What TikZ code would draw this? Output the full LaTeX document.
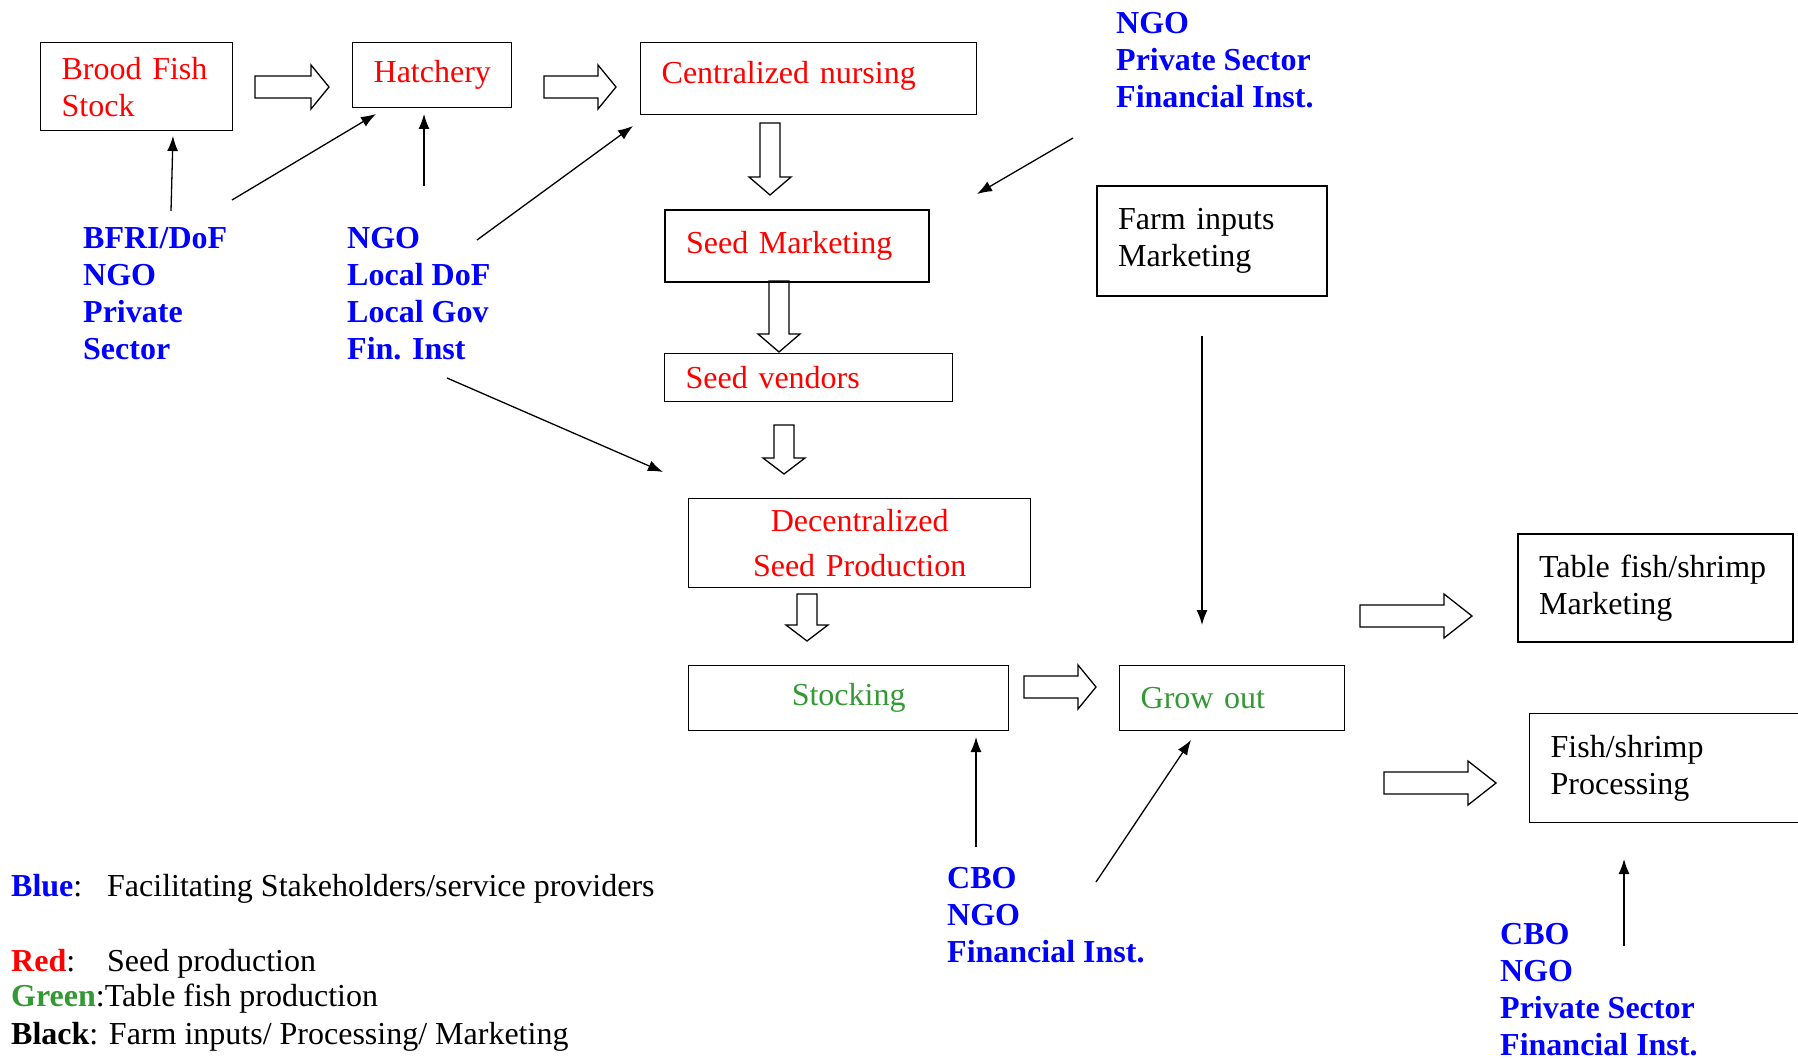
\documentclass[tikz,border=0pt]{standalone}
\usepackage{fontspec}
\setmainfont{Liberation Serif}
\usetikzlibrary{arrows.meta}

\definecolor{seedred}{RGB}{255,0,0}
\definecolor{facblue}{RGB}{0,0,255}
\definecolor{tablegreen}{RGB}{51,153,51}

\newcommand{\chartfont}{\fontsize{32}{37}\selectfont}

% hollow block arrows: start, end of tip, centre line, head length
\newcommand{\rightblock}[4]{%
  \draw[line width=1.3pt] ({#1},{#3-11}) -- ({#2-#4},{#3-11}) -- ({#2-#4},{#3-22})
    -- ({#2},{#3}) -- ({#2-#4},{#3+22}) -- ({#2-#4},{#3+11}) -- ({#1},{#3+11}) -- cycle;}
\newcommand{\downblock}[4]{%
  \draw[line width=1.3pt] ({#3-10},{#1}) -- ({#3-10},{#2-#4}) -- ({#3-21},{#2-#4})
    -- ({#3},{#2}) -- ({#3+21},{#2-#4}) -- ({#3+10},{#2-#4}) -- ({#3+10},{#1}) -- cycle;}

\tikzset{
  box/.style={draw, line width=1.3pt, anchor=north west, inner xsep=21pt, inner ysep=0pt, align=left},
  thickbox/.style={box, line width=2.2pt},
  helper/.style={text=facblue, font=\chartfont\bfseries, align=left, anchor=west, inner sep=0pt},
  legend/.style={anchor=base west, inner sep=0pt},
  link/.style={line width=1.3pt, -{Latex[length=15pt,width=11pt]}},
}

\begin{document}
\begin{tikzpicture}[x=1pt,y=-1pt,font=\chartfont]
\useasboundingbox (0,0) rectangle (1798,1059);

% seed production chain
\node[box, text width=150pt, minimum height=88pt, text=seedred] (brood) at (40,42) {Brood Fish\\Stock};
\node[box, text width=117pt, minimum height=65pt, align=center, text=seedred] (hatchery) at (352,42) {Hatchery};
\node[box, text width=294pt, minimum height=72pt, text depth=13pt, text=seedred] (nursing) at (640,42) {Centralized nursing};
\node[thickbox, text width=222pt, minimum height=72pt, text=seedred] (seedmkt) at (664,209) {Seed Marketing};
\node[box, text width=246pt, minimum height=48pt, text=seedred] (vendors) at (664,353) {Seed vendors};
\node[box, text width=300pt, minimum height=89pt, align=center, text=seedred] (decseed) at (688,498) {Decentralized\\[8pt]Seed Production};

% table fish chain
\node[thickbox, text width=188pt, minimum height=110pt] (farm) at (1096,185) {Farm inputs\\Marketing};
\node[box, text width=278pt, minimum height=65pt, align=center, text=tablegreen] (stocking) at (688,665) {Stocking};
\node[box, text width=183pt, minimum height=65pt, text=tablegreen] (growout) at (1119,665) {Grow out};
\node[thickbox, text width=233pt, minimum height=108pt] (tablemkt) at (1517,533) {Table fish/shrimp\\Marketing};
\node[box, text width=260pt, minimum height=109pt] (processing) at (1529,713) {Fish/shrimp\\Processing};

% block arrows
\rightblock{255}{329}{87}{18}
\rightblock{544}{616}{87}{18}
\downblock{123}{195}{770}{18}
\downblock{281}{352}{779}{18}
\downblock{425}{474}{784}{16}
\downblock{594}{641}{807}{16}
\rightblock{1024}{1096}{687}{18}
\rightblock{1360}{1472}{616}{28}
\rightblock{1384}{1496}{783}{28}

% stakeholders
\node[helper] (bfri) at (83,294) {BFRI/DoF\\NGO\\Private\\Sector};
\node[helper] (localngo) at (347,294) {NGO\\Local DoF\\Local Gov\\Fin. Inst};
\node[helper] (topngo) at (1116,60) {NGO\\Private Sector\\Financial Inst.};
\node[helper] (growcbo) at (947,915) {CBO\\NGO\\Financial Inst.};
\node[helper] (proccbo) at (1500,990) {CBO\\NGO\\Private Sector\\Financial Inst.};

% support links
\coordinate (bfri-up) at (171,211);
\coordinate (bfri-side) at (232,200);
\coordinate (brood-in) at (173,136);
\coordinate (hatch-in1) at (376,114);
\coordinate (local-up) at (424,186);
\coordinate (hatch-in2) at (424,114);
\coordinate (local-side) at (477,240);
\coordinate (nursing-in) at (633,126);
\coordinate (local-down) at (447,378);
\coordinate (decseed-in) at (663,472);
\coordinate (top-down) at (1073,138);
\coordinate (seedmkt-in) at (977,194);
\coordinate (farm-out) at (1202,336);
\coordinate (growout-in1) at (1202,625);
\coordinate (cbo-up) at (976,847);
\coordinate (stocking-in) at (976,737);
\coordinate (cbo-side) at (1096,882);
\coordinate (growout-in2) at (1191,740);
\coordinate (proc-up) at (1624,946);
\coordinate (processing-in) at (1624,859);

\draw[link] (bfri-up) -- (brood-in);
\draw[link] (bfri-side) -- (hatch-in1);
\draw[link] (local-up) -- (hatch-in2);
\draw[link] (local-side) -- (nursing-in);
\draw[link] (local-down) -- (decseed-in);
\draw[link] (top-down) -- (seedmkt-in);
\draw[link] (farm-out) -- (growout-in1);
\draw[link] (cbo-up) -- (stocking-in);
\draw[link] (cbo-side) -- (growout-in2);
\draw[link] (proc-up) -- (processing-in);

% legend
\node[legend] (keyblue) at (11,896) {\makebox[96pt][l]{\textbf{\textcolor{facblue}{Blue}}:}Facilitating Stakeholders/service providers};
\node[legend] (keyred) at (11,971) {\makebox[96pt][l]{\textbf{\textcolor{seedred}{Red}}:}Seed production};
\node[legend] (keygreen) at (11,1006) {\textbf{\textcolor{tablegreen}{Green}}:Table fish production};
\node[legend] (keyblack) at (11,1044) {\textbf{Black}: Farm inputs/ Processing/ Marketing};
\end{tikzpicture}
\end{document}
